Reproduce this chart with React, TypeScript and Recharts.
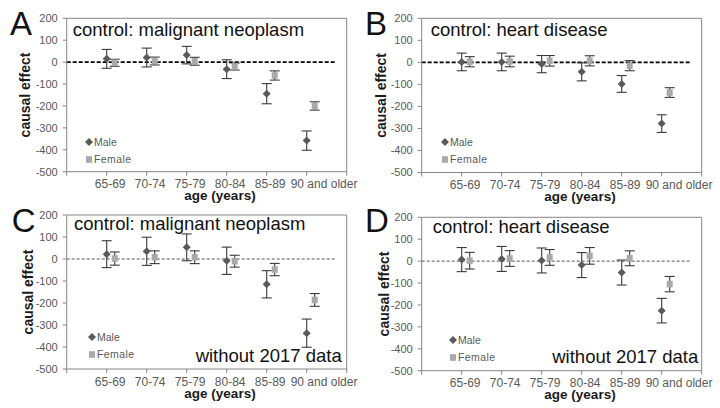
import React from 'react';
import { ScatterChart, Scatter, XAxis, YAxis, ErrorBar, ReferenceLine, Legend } from 'recharts';

const AGE_GROUPS = ['65-69', '70-74', '75-79', '80-84', '85-89', '90 and older'];
const Y_TICKS = [-500, -400, -300, -200, -100, 0, 100, 200];
const X_TICKS = [0, 1, 2, 3, 4, 5, 6, 7];
const SERIES_NAMES = ['Male', 'Female'];

// Panel A: control malignant neoplasm
const A_MALE = [15, 21, 32, -32, -144, -358];
const A_MALE_ERR = [43, 43, 40, 43, 46, 44];
const A_FEMALE = [-3, 5, 4, -20, -61, -200];
const A_FEMALE_ERR = [16, 18, 18, 16, 21, 19];
// Panel B: control heart disease
const B_MALE = [2, 2, -8, -43, -98, -278];
const B_MALE_ERR = [40, 40, 39, 41, 38, 40];
const B_FEMALE = [3, 4, 7, 7, -15, -137];
const B_FEMALE_ERR = [23, 24, 24, 23, 23, 22];
// Panel C: malignant neoplasm without 2017
const C_MALE = [22, 35, 53, -8, -115, -337];
const C_MALE_ERR = [61, 64, 61, 62, 62, 64];
const C_FEMALE = [2, 8, 8, -10, -48, -186];
const C_FEMALE_ERR = [30, 29, 29, 27, 28, 29];
// Panel D: heart disease without 2017
const D_MALE = [7, 10, 3, -18, -52, -226];
const D_MALE_ERR = [55, 57, 57, 57, 57, 56];
const D_FEMALE = [2, 12, 17, 24, 13, -105];
const D_FEMALE_ERR = [38, 36, 36, 38, 34, 35];

const FEMALE_SHIFT = 0.2;
const FONT = '"Liberation Sans", Arial, sans-serif';

const build = (vals: number[], errs: number[], shift: number) =>
  AGE_GROUPS.map((g, i) => ({ x: i + 1 + shift, y: vals[i], err: errs[i], group: g }));

const Diamond = (props: any) => {
  const { cx, cy } = props;
  if (cx == null || cy == null) return null;
  return <polygon points={`${cx},${cy - 4} ${cx + 4},${cy} ${cx},${cy + 4} ${cx - 4},${cy}`} fill="#5a5a5a" />;
};
const Square = (props: any) => {
  const { cx, cy } = props;
  if (cx == null || cy == null) return null;
  return <rect x={cx - 3} y={cy - 3.3} width={6} height={6.6} fill="#a9a9a9" />;
};

const XTick = (props: any) => {
  const { x, y, payload, labelOffset } = props;
  const k = payload.value;
  if (k < 1 || k > AGE_GROUPS.length) return null;
  const isLast = k === AGE_GROUPS.length;
  return (
    <text
      x={isLast ? x - 16 : x + 3.5}
      y={y - 4 + labelOffset}
      textAnchor={isLast ? 'start' : 'middle'}
      fontSize={12}
      fontFamily={FONT}
      fill="#595959"
    >
      {AGE_GROUPS[k - 1]}
    </text>
  );
};

const LegendBox = () => (
  <svg width={70} height={36} style={{ display: 'block', overflow: 'visible' }}>
    <polygon points="5,4 9,8 5,12 1,8" fill="#5a5a5a" />
    <text x={10} y={11.8} fontSize={10.5} fontFamily={FONT} fill="#595959">{SERIES_NAMES[0]}</text>
    <rect x={2} y={22.2} width={6} height={6.6} fill="#a9a9a9" />
    <text x={10} y={29.3} fontSize={10.5} fontFamily={FONT} fill="#595959" letterSpacing={0.4}>{SERIES_NAMES[1]}</text>
  </svg>
);

type PanelCfg = {
  letter: string;
  title: string;
  sub?: string;
  male: number[];
  maleErr: number[];
  female: number[];
  femaleErr: number[];
  l: number; r: number; t: number; b: number;
  ylabX: number;
  legend: [number, number];
  letterPos: [number, number];
  titlePos: [number, number];
  subPos?: [number, number];
  thickDash: boolean;
};

const PANELS: PanelCfg[] = [
  {
    letter: 'A', title: 'control: malignant neoplasm',
    male: A_MALE, maleErr: A_MALE_ERR, female: A_FEMALE, femaleErr: A_FEMALE_ERR,
    l: 66.7, r: 346.7, t: 18.3, b: 171.7, ylabX: 29.5,
    legend: [84, 133.7], letterPos: [10, 35], titlePos: [72.7, 36], thickDash: true,
  },
  {
    letter: 'B', title: 'control: heart disease',
    male: B_MALE, maleErr: B_MALE_ERR, female: B_FEMALE, femaleErr: B_FEMALE_ERR,
    l: 61.7, r: 341.7, t: 18.3, b: 172.5, ylabX: 25.5,
    legend: [80, 133.7], letterPos: [5, 35], titlePos: [70.7, 35.7], thickDash: true,
  },
  {
    letter: 'C', title: 'control: malignant neoplasm', sub: 'without 2017 data',
    male: C_MALE, maleErr: C_MALE_ERR, female: C_FEMALE, femaleErr: C_FEMALE_ERR,
    l: 66.7, r: 346.7, t: 11, b: 165, ylabX: 33,
    legend: [86.7, 125.3], letterPos: [11.7, 28.3], titlePos: [74, 26], subPos: [341.7, 158.3], thickDash: false,
  },
  {
    letter: 'D', title: 'control: heart disease', sub: 'without 2017 data',
    male: D_MALE, maleErr: D_MALE_ERR, female: D_FEMALE, femaleErr: D_FEMALE_ERR,
    l: 61.7, r: 341.7, t: 13.3, b: 166.7, ylabX: 28.7,
    legend: [88.3, 128], letterPos: [5, 28.3], titlePos: [72.7, 29.3], subPos: [338.3, 159.3], thickDash: false,
  },
];

const W = 360;
const H = 204;
const AXIS = '#868686';
const XLAB_OFFSET = 16.5;
const AGE_OFFSET = 28.5;

const Panel = ({ cfg }: { cfg: PanelCfg }) => {
  const maleData = build(cfg.male, cfg.maleErr, 0);
  const femaleData = build(cfg.female, cfg.femaleErr, FEMALE_SHIFT);
  return (
    <div style={{ position: 'relative', width: W, height: H }}>
      <ScatterChart
        width={W}
        height={H}
        margin={{ top: cfg.t, right: W - cfg.r, bottom: 0, left: 0 }}
      >
        <XAxis
          type="number"
          dataKey="x"
          domain={[0, 7]}
          ticks={X_TICKS}
          interval={0}
          height={H - cfg.b}
          tickSize={4}
          tickMargin={0}
          stroke={AXIS}
          tickLine={{ stroke: AXIS }}
          axisLine={{ stroke: AXIS }}
          tick={(p: any) => <XTick {...p} labelOffset={XLAB_OFFSET} />}
          label={{
            content: (lp: any) => {
              const vb = lp.viewBox || {};
              return (
                <text x={220} y={(vb.y ?? cfg.b) + AGE_OFFSET} textAnchor="middle" fontSize={13.5} fontWeight="bold" fontFamily={FONT} fill="#1a1a1a">
                  age (years)
                </text>
              );
            },
          }}
        />
        <YAxis
          type="number"
          dataKey="y"
          domain={[-500, 200]}
          ticks={Y_TICKS}
          interval={0}
          width={cfg.l}
          tickSize={4}
          tickMargin={5}
          stroke={AXIS}
          tickLine={{ stroke: AXIS }}
          axisLine={{ stroke: AXIS }}
          tick={{ fontSize: 11, fill: '#595959', fontFamily: FONT }}
          label={{
            content: (lp: any) => {
              const vb = lp.viewBox || {};
              const cy = (vb.y ?? cfg.t) + (vb.height ?? cfg.b - cfg.t) / 2;
              return (
                <text transform={`translate(${cfg.ylabX},${cy}) rotate(-90)`} textAnchor="middle" fontSize={14} fontWeight="bold" fontFamily={FONT} fill="#1a1a1a">
                  causal effect
                </text>
              );
            },
          }}
        />
        <ReferenceLine y={200} stroke={AXIS} />
        <ReferenceLine x={7} stroke={AXIS} />
        <ReferenceLine
          segment={[{ x: 0, y: 0 }, { x: 6.75, y: 0 }]}
          stroke={cfg.thickDash ? '#000' : '#555'}
          strokeWidth={cfg.thickDash ? 1.6 : 1}
          strokeDasharray={cfg.thickDash ? '4 2' : '3 2'}
        />
        <Scatter name={SERIES_NAMES[0]} data={maleData} dataKey="y" shape={Diamond} isAnimationActive={false}>
          <ErrorBar dataKey="err" direction="y" width={5} stroke="#3a3a3a" strokeWidth={1.1} isAnimationActive={false} />
        </Scatter>
        <Scatter name={SERIES_NAMES[1]} data={femaleData} dataKey="y" shape={Square} isAnimationActive={false}>
          <ErrorBar dataKey="err" direction="y" width={5} stroke="#3a3a3a" strokeWidth={1.1} isAnimationActive={false} />
        </Scatter>
        <Legend
          layout="vertical"
          align="center"
          verticalAlign="middle"
          content={() => <LegendBox />}
          wrapperStyle={{ left: cfg.legend[0], top: cfg.legend[1], width: 70, height: 36 }}
        />
      </ScatterChart>
      <svg width={W} height={H} style={{ position: 'absolute', left: 0, top: 0, pointerEvents: 'none', overflow: 'visible' }}>
        <text x={cfg.letterPos[0]} y={cfg.letterPos[1]} fontSize={33} fontFamily={FONT} fill="#111">{cfg.letter}</text>
        <text x={cfg.titlePos[0]} y={cfg.titlePos[1]} fontSize={18.5} fontFamily={FONT} fill="#111">{cfg.title}</text>
        {cfg.sub && cfg.subPos && (
          <text x={cfg.subPos[0]} y={cfg.subPos[1]} textAnchor="end" fontSize={18.5} fontFamily={FONT} fill="#111">{cfg.sub}</text>
        )}
      </svg>
    </div>
  );
};

export default function App() {
  return (
    <div style={{ position: 'absolute', left: 0, top: 0, width: 720, height: 408, background: '#fff', display: 'flex', flexWrap: 'wrap' }}>
      {PANELS.map((p) => (
        <Panel key={p.letter} cfg={p} />
      ))}
    </div>
  );
}
